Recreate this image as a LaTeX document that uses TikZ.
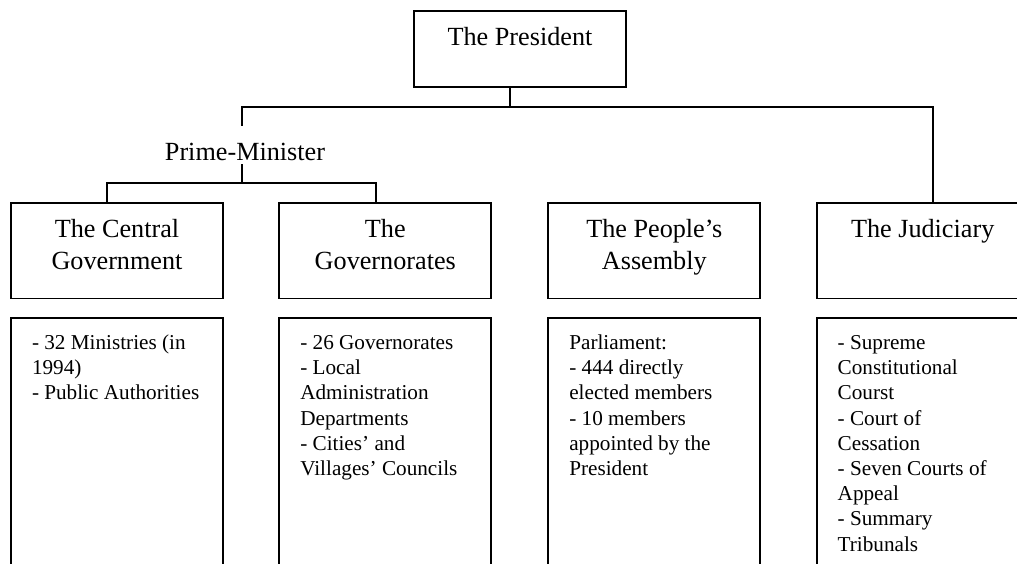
\documentclass[tikz,border=0pt]{standalone}
\usepackage{fontspec}
\setmainfont{Liberation Serif}
\newcommand{\headfont}{\fontsize{26.2}{32}\selectfont}
\newcommand{\bodyfont}{\fontsize{21.2}{25.2}\selectfont}
\newcommand{\headtext}[1]{\parbox[t]{212pt}{\centering\headfont #1}}
\newcommand{\bodytext}[1]{\parbox[t]{190pt}{\raggedright\bodyfont #1}}

\begin{document}
\begin{tikzpicture}[x=1pt, y=-1pt,
  box/.style={draw, line width=1.8pt, rectangle, inner sep=0pt, outer sep=0pt,
              anchor=north west, minimum width=212pt},
  headbox/.style={box, minimum height=95.8pt},
  listbox/.style={box, minimum height=320pt},
  head/.style={anchor=base, inner sep=0pt},
  item/.style={anchor=base west, inner sep=0pt},
  link/.style={draw, line width=1.8pt, line join=miter}
]
\useasboundingbox (0,0) rectangle (1017,563);
\clip (0,0) rectangle (1017,563);

% top of the hierarchy
\node[box, minimum height=76pt] (pres) at (414,11) {};
\node[head] (prestext) at ([yshift=-34.7pt]pres.north) {\headfont The President};

% the four branches
\node[headbox] (cg)  at (11,202.7) {};
\node[headbox] (gov) at (279.3,202.7) {};
\node[headbox] (pa)  at (548.3,202.7) {};
\node[headbox] (jud) at (816.7,202.7) {};

\node[head] (cgtext)  at ([yshift=-34.6pt]cg.north)  {\headtext{The Central\\Government}};
\node[head] (govtext) at ([yshift=-34.6pt]gov.north) {\headtext{The\\Governorates}};
\node[head] (patext)  at ([yshift=-34.6pt]pa.north)  {\headtext{The People’s\\Assembly}};
\node[head] (judtext) at ([yshift=-34.6pt]jud.north) {\headtext{The Judiciary}};

% detail boxes below each branch
\node[listbox] (cgl)  at (11,317.7) {};
\node[listbox] (govl) at (279.3,317.7) {};
\node[listbox] (pal)  at (548.3,317.7) {};
\node[listbox] (judl) at (816.7,317.7) {};

\node[item] (cgitems)  at ([xshift=20.8pt,yshift=-31.8pt]cgl.north west)
  {\bodytext{- 32 Ministries (in\\1994)\\- Public Authorities}};
\node[item] (govitems) at ([xshift=20.8pt,yshift=-31.8pt]govl.north west)
  {\bodytext{- 26 Governorates\\- Local\\Administration\\Departments\\- Cities’ and\\Villages’ Councils}};
\node[item] (paitems)  at ([xshift=20.8pt,yshift=-31.8pt]pal.north west)
  {\bodytext{Parliament:\\- 444 directly\\elected members\\- 10 members\\appointed by the\\President}};
\node[item] (juditems) at ([xshift=20.8pt,yshift=-31.8pt]judl.north west)
  {\bodytext{- Supreme\\Constitutional\\Courst\\- Court of\\Cessation\\- Seven Courts of\\Appeal\\- Summary\\Tribunals}};

% Prime-Minister label on the left stem
\node[anchor=base, inner sep=0pt, text height=35pt, text depth=3.3pt] (pm)
  at (245,160.7) {\headfont Prime-Minister};

% connectors
\coordinate (busL) at (241.7,106.7);
\coordinate (busR) at (932.7,106.7);
\coordinate (pmbusL) at (107,183.3);
\coordinate (pmbusR) at (376,183.3);

\draw[link] ([xshift=-10pt]pres.south) -- ([xshift=-10pt]pres.south |- busL);
\draw[link] (busL |- pm.north) -- (busL) -- (busR) -- (busR |- jud.north);
\draw[link] (pa.north -| 644.3,0) -- (pa.north -| 644.3,0 |- busL);
\draw[link] (busL |- pm.south) -- (busL |- pmbusL);
\draw[link] (cg.north -| pmbusL) -- (pmbusL) -- (pmbusR) -- (gov.north -| pmbusR);
\end{tikzpicture}
\end{document}
